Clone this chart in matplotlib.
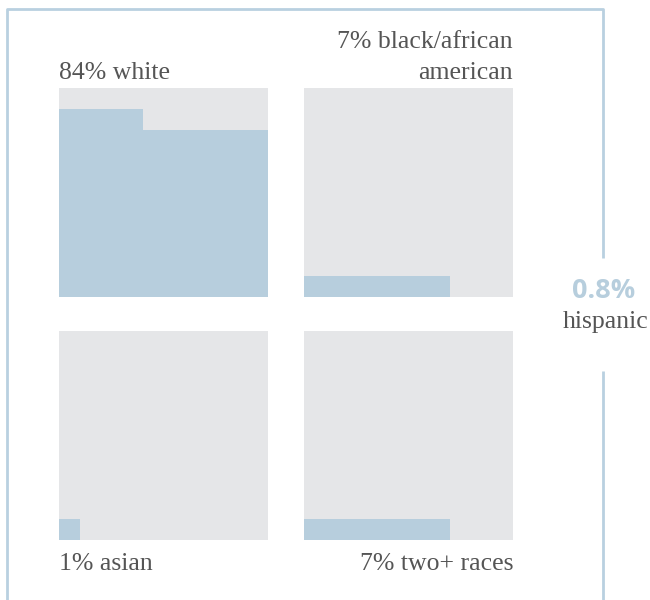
import matplotlib.pyplot as plt
from matplotlib.patches import Rectangle

# race breakdown (percent)
labels = ["84% white", "7% black/african\namerican", "1% asian", "7% two+ races"]
values = [84, 7, 1, 7]
hispanic_value = "0.8%"
hispanic_label = "hispanic"

FILL = "#b7cedd"
EMPTY = "#e5e6e8"
LINE = "#b9d0e0"
TEXT = "#555555"
FONT = ["Liberation Serif", "DejaVu Serif"]
FS = 18.5

W, H = 650, 600
fig = plt.figure(figsize=(W / 100, H / 100), dpi=100)

# background axes in pixel units for the bracket frame
bg = fig.add_axes([0, 0, 1, 1])
bg.set_xlim(0, W)
bg.set_ylim(H, 0)
bg.axis("off")
bg.plot([7, 7, 603, 603], [600, 9, 9, 258], color=LINE, lw=2, solid_capstyle="butt")
bg.plot([603, 603], [371, 600], color=LINE, lw=2, solid_capstyle="butt")
bg.text(604, 291, hispanic_value, color=FILL, fontsize=19.5, fontweight="bold",
        ha="center", va="center", family=["Open Sans", "DejaVu Sans"])
bg.text(606, 322, hispanic_label, color=TEXT, fontsize=FS, ha="center", va="center",
        family=FONT)

# waffle boxes: left, top in pixels, size 209
boxes = [(59, 88), (304, 88), (59, 331), (304, 331)]
size = 209


def waffle(ax, n):
    ax.set_xlim(0, 10)
    ax.set_ylim(0, 10)
    ax.axis("off")
    ax.add_patch(Rectangle((0, 0), 10, 10, color=EMPTY, lw=0))
    for i in range(n):
        row, col = divmod(i, 10)
        ax.add_patch(Rectangle((col, row), 1, 1, color=FILL, lw=0))


for (x0, y0), val, lab, k in zip(boxes, values, labels, range(4)):
    ax = fig.add_axes([x0 / W, 1 - (y0 + size) / H, size / W, size / H])
    waffle(ax, round(val))
    if k == 0:
        bg.text(x0, 79, lab, ha="left", va="baseline", fontsize=FS, color=TEXT, family=FONT)
    elif k == 1:
        bg.text(x0 + size, 79, lab, ha="right", va="baseline", fontsize=FS, color=TEXT,
                family=FONT, linespacing=1.55)
    elif k == 2:
        bg.text(x0, 570, lab, ha="left", va="baseline", fontsize=FS, color=TEXT, family=FONT)
    else:
        bg.text(x0 + size, 570, lab, ha="right", va="baseline", fontsize=FS, color=TEXT,
                family=FONT)

fig.savefig("out.png", dpi=100)
